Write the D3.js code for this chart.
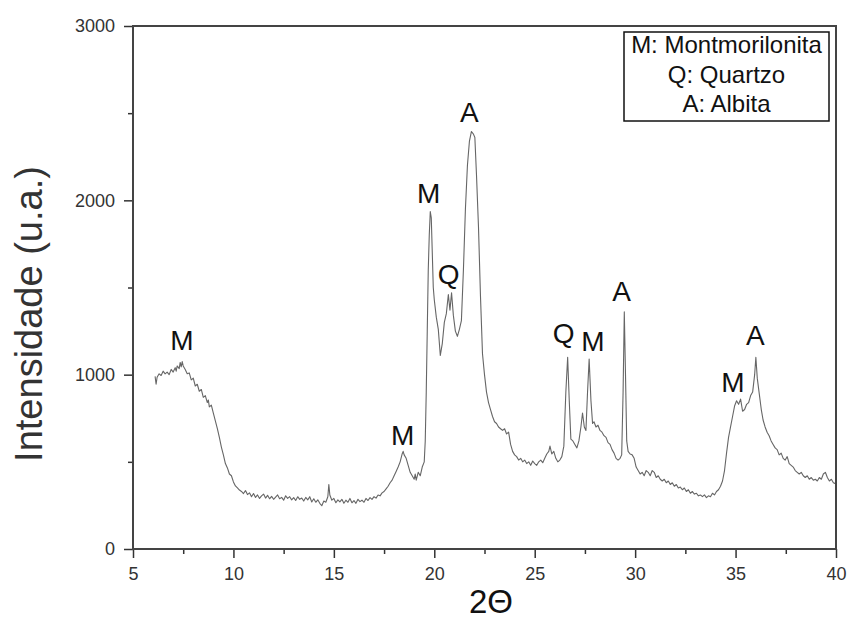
<!DOCTYPE html>
<html>
<head>
<meta charset="utf-8">
<script src="https://cdn.jsdelivr.net/npm/d3@7"></script>
<style>
  body { margin: 0; background: #fff; }
  svg text { font-family: "Liberation Sans", Arial, sans-serif; }
</style>
</head>
<body>
<div id="chart"></div>
<script>
// diffraction pattern
const twoTheta = [
  6.1, 6.15, 6.2, 6.3, 6.4, 6.5, 6.6, 6.7, 6.8, 6.9, 7.0, 7.1, 7.15, 7.2, 7.3, 7.35, 7.4, 7.45, 7.5, 7.6,
  7.7, 7.8, 7.9, 8.0, 8.1, 8.2, 8.3, 8.4, 8.5, 8.6, 8.7, 8.75, 8.8, 8.9, 9.0, 9.1, 9.2, 9.3, 9.4, 9.5,
  9.6, 9.7, 9.8, 9.9, 10.0, 10.1, 10.2, 10.3, 10.4, 10.5, 10.6, 10.7, 10.8, 10.9, 11.0, 11.1, 11.2, 11.3, 11.4, 11.5,
  11.6, 11.7, 11.8, 11.9, 12.0, 12.1, 12.2, 12.3, 12.4, 12.5, 12.6, 12.7, 12.8, 12.9, 13.0, 13.1, 13.2, 13.3, 13.4, 13.5,
  13.6, 13.7, 13.8, 13.9, 14.0, 14.1, 14.2, 14.3, 14.4, 14.5, 14.6, 14.7, 14.75, 14.8, 14.9, 15.0, 15.1, 15.2, 15.3, 15.4,
  15.5, 15.6, 15.7, 15.8, 15.9, 16.0, 16.1, 16.2, 16.3, 16.4, 16.5, 16.6, 16.7, 16.8, 16.9, 17.0, 17.1, 17.2, 17.3, 17.4,
  17.5, 17.6, 17.7, 17.8, 17.9, 18.0, 18.1, 18.2, 18.3, 18.4, 18.45, 18.5, 18.6, 18.7, 18.8, 18.9, 19.0, 19.05, 19.1, 19.2,
  19.3, 19.4, 19.5, 19.55, 19.6, 19.65, 19.7, 19.75, 19.8, 19.85, 19.9, 19.95, 20.0, 20.1, 20.2, 20.3, 20.4, 20.5, 20.6, 20.7,
  20.78, 20.86, 20.95, 21.05, 21.15, 21.25, 21.35, 21.45, 21.55, 21.65, 21.75, 21.85, 21.95, 22.02, 22.1, 22.2, 22.3, 22.4, 22.5, 22.6,
  22.7, 22.8, 22.9, 23.0, 23.1, 23.2, 23.3, 23.4, 23.5, 23.6, 23.7, 23.8, 23.9, 24.0, 24.1, 24.2, 24.3, 24.4, 24.5, 24.6,
  24.7, 24.8, 24.9, 25.0, 25.1, 25.2, 25.3, 25.4, 25.5, 25.6, 25.7, 25.76, 25.85, 25.95, 26.05, 26.15, 26.25, 26.35, 26.45, 26.55,
  26.64, 26.72, 26.8, 26.9, 27.0, 27.1, 27.2, 27.3, 27.38, 27.47, 27.55, 27.63, 27.71, 27.8, 27.88, 27.95, 28.05, 28.15, 28.25, 28.35,
  28.45, 28.55, 28.65, 28.75, 28.85, 28.95, 29.05, 29.15, 29.25, 29.33, 29.4, 29.46, 29.52, 29.58, 29.65, 29.75, 29.85, 29.95, 30.05, 30.15,
  30.25, 30.35, 30.45, 30.55, 30.65, 30.75, 30.85, 30.95, 31.05, 31.15, 31.25, 31.35, 31.45, 31.55, 31.65, 31.75, 31.85, 31.95, 32.05, 32.15,
  32.25, 32.35, 32.45, 32.55, 32.65, 32.75, 32.85, 32.95, 33.05, 33.15, 33.25, 33.35, 33.45, 33.55, 33.65, 33.75, 33.85, 33.95, 34.05, 34.15,
  34.25, 34.35, 34.45, 34.55, 34.65, 34.75, 34.85, 34.95, 35.05, 35.15, 35.25, 35.35, 35.45, 35.55, 35.65, 35.75, 35.85, 35.95, 36.01, 36.08,
  36.18, 36.28, 36.37, 36.47, 36.57, 36.67, 36.77, 36.87, 36.97, 37.07, 37.17, 37.27, 37.37, 37.47, 37.57, 37.67, 37.77, 37.87, 37.97, 38.07,
  38.17, 38.27, 38.37, 38.47, 38.57, 38.67, 38.77, 38.87, 38.97, 39.07, 39.17, 39.27, 39.37, 39.47, 39.57, 39.67, 39.77, 39.87, 39.97
]
const intensity = [
  990, 945, 985, 1005, 995, 1020, 1005, 1015, 1000, 1030, 1015, 1040, 1020, 1050, 1035, 1070, 1045, 1075, 1050, 1030,
  1005, 1010, 970, 980, 935, 945, 905, 915, 870, 880, 840, 855, 815, 825, 780, 735, 690, 640, 585, 540,
  490, 465, 430, 420, 385, 362, 350, 338, 330, 318, 335, 312, 322, 300, 318, 296, 310, 290, 305, 315,
  292, 308, 288, 302, 285, 298, 310, 288, 296, 280, 305, 290, 300, 282, 295, 278, 300, 285, 292, 275,
  296, 282, 300, 270, 288, 268, 282, 262, 248, 275, 268, 300, 370, 310, 280, 290, 265, 282, 270, 285,
  262, 280, 268, 290, 265, 278, 262, 285, 272, 280, 268, 290, 278, 295, 285, 300, 292, 310, 305, 322,
  330, 345, 360, 380, 395, 420, 445, 470, 500, 545, 560, 540, 520, 480, 440, 420, 400, 430, 395, 440,
  420, 470, 500, 620, 900, 1250, 1600, 1800, 1935, 1900, 1700, 1500, 1430, 1330, 1260, 1110, 1180, 1300, 1350, 1460,
  1370, 1470, 1340, 1250, 1220, 1260, 1310, 1600, 1950, 2200, 2340, 2395, 2380, 2360, 2150, 1850, 1450, 1120, 1000, 900,
  840, 800, 760, 730, 720, 700, 690, 680, 690, 660, 670, 600, 560, 540, 530, 510, 520, 500, 510, 490,
  500, 480, 505, 490, 480, 500, 510, 495, 520, 545, 560, 590, 545, 560, 520, 500, 510, 530, 590, 900,
  1100, 850, 630, 620, 600, 580, 620, 700, 780, 700, 680, 900, 1090, 850, 720, 730, 700, 710, 680, 670,
  650, 640, 610, 600, 570, 550, 520, 510, 520, 540, 900, 1360, 1000, 620, 560, 545, 540, 520, 470, 450,
  430, 440, 420, 450, 440, 420, 450, 440, 410, 420, 400, 390, 400, 380, 390, 370, 380, 360, 370, 350,
  355, 340, 350, 330, 340, 320, 330, 315, 320, 305, 310, 300, 310, 295, 305, 300, 320, 310, 330, 340,
  360, 390, 450, 550, 640, 700, 760, 820, 850, 830, 860, 790, 800, 830, 840, 880, 900, 1000, 1100, 980,
  890, 800, 740, 700, 670, 650, 620, 600, 580, 570, 540, 550, 520, 510, 530, 490, 480, 470, 450, 440,
  430, 440, 420, 410, 420, 400, 410, 395, 400, 390, 410, 400, 430, 440, 410, 390, 400, 380, 375
]

// peak labels (letter, 2θ, intensity of the label baseline)
const peakLetters = ['M', 'M', 'M', 'Q', 'A', 'Q', 'M', 'A', 'M', 'A']
const peakX = [7.44, 18.42, 19.72, 20.71, 21.75, 26.44, 27.9, 29.33, 34.87, 35.99]
const peakY = [1141, 597, 1985, 1520, 2451, 1182, 1136, 1423, 902, 1170]

const legendLines = ['M: Montmorilonita', 'Q: Quartzo', 'A: Albita']

const xMajor = [5, 10, 15, 20, 25, 30, 35, 40]
const xMinor = [7.5, 12.5, 17.5, 22.5, 27.5, 32.5, 37.5]
const yMajor = [0, 1000, 2000, 3000]
const yMinor = [500, 1500, 2500]

var margin = { top: 26, right: 12, bottom: 72, left: 133 }
var width = 848 - margin.left - margin.right
var height = 621 - margin.top - margin.bottom

var svg = d3.select('#chart')
  .append('svg')
  .attr('width', 848)
  .attr('height', 621)

var g = svg.append('g')
  .attr('transform', 'translate(' + margin.left + ',' + margin.top + ')')

var x = d3.scaleLinear().domain([5, 40]).range([0, width])
var y = d3.scaleLinear().domain([0, 3000]).range([height, 0])

// the trace
var points = twoTheta.map((t, i) => [t, intensity[i]])
var line = d3.line()
  .x(d => x(d[0]))
  .y(d => y(d[1]))

g.append('path')
  .datum(points)
  .attr('fill', 'none')
  .attr('stroke', '#666')
  .attr('stroke-width', 1.1)
  .attr('stroke-linejoin', 'round')
  .attr('d', line)

// axes
var xAxis = g.append('g')
  .attr('transform', 'translate(0,' + height + ')')
  .call(d3.axisBottom(x).tickValues(xMajor).tickSize(9).tickPadding(9).tickFormat(d3.format('d')))
var xAxisMinor = g.append('g')
  .attr('transform', 'translate(0,' + height + ')')
  .call(d3.axisBottom(x).tickValues(xMinor).tickSize(5).tickFormat(''))
var yAxis = g.append('g')
  .call(d3.axisLeft(y).tickValues(yMajor).tickSize(9).tickPadding(9).tickFormat(d3.format('d')))
var yAxisMinor = g.append('g')
  .call(d3.axisLeft(y).tickValues(yMinor).tickSize(5).tickFormat(''))

;[xAxis, xAxisMinor, yAxis, yAxisMinor].forEach(a => {
  a.select('.domain').remove()
  a.selectAll('line').attr('stroke', '#333').attr('stroke-width', 1.5)
  a.selectAll('text')
    .attr('fill', '#333')
    .style('font-size', '18px')
    .style('font-family', '"Liberation Sans", Arial, sans-serif')
})

// frame
g.append('rect')
  .attr('x', 0)
  .attr('y', 0)
  .attr('width', width)
  .attr('height', height)
  .attr('fill', 'none')
  .attr('stroke', '#444')
  .attr('stroke-width', 2)

// peak letters
g.selectAll('.peak')
  .data(peakLetters)
  .enter().append('text')
  .attr('class', 'peak')
  .attr('x', (d, i) => x(peakX[i]))
  .attr('y', (d, i) => y(peakY[i]))
  .attr('text-anchor', 'middle')
  .attr('fill', '#111')
  .style('font-size', '28px')
  .text(d => d)

// legend box
var legend = svg.append('g').attr('transform', 'translate(624,32)')
legend.append('rect')
  .attr('width', 205)
  .attr('height', 89)
  .attr('fill', '#fff')
  .attr('stroke', '#111')
  .attr('stroke-width', 1.5)
legend.selectAll('text')
  .data(legendLines)
  .enter().append('text')
  .attr('x', 102.5)
  .attr('y', (d, i) => 21 + i * 29.5)
  .attr('text-anchor', 'middle')
  .attr('fill', '#111')
  .style('font-size', '24px')
  .text(d => d)

// axis titles
svg.append('text')
  .attr('x', 491)
  .attr('y', 613)
  .attr('text-anchor', 'middle')
  .attr('fill', '#111')
  .style('font-size', '33px')
  .text('2\u0398')

svg.append('text')
  .attr('transform', 'translate(42,314) rotate(-90)')
  .attr('text-anchor', 'middle')
  .attr('fill', '#333')
  .style('font-size', '38px')
  .text('Intensidade (u.a.)')
</script>
</body>
</html>
